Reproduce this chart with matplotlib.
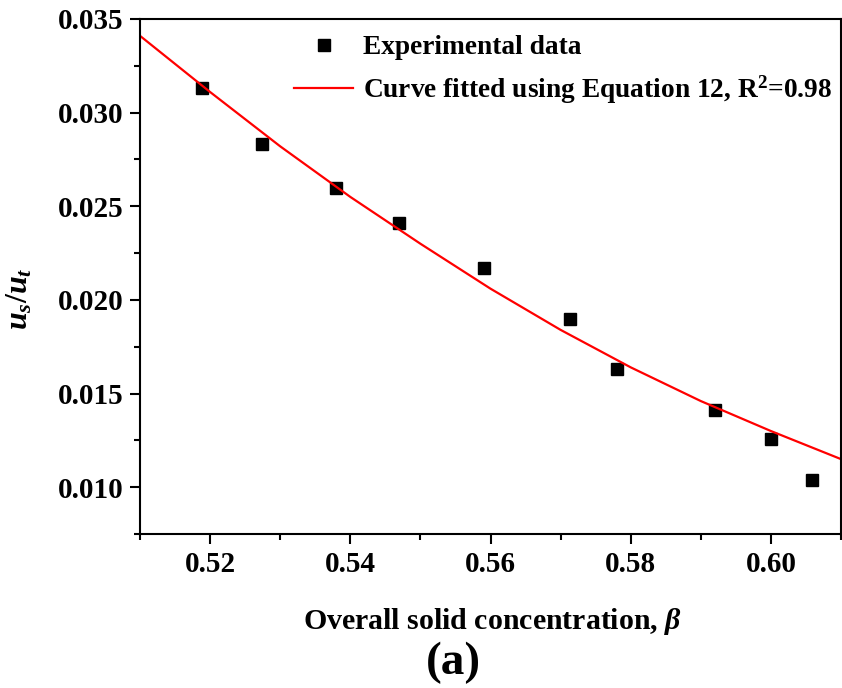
import matplotlib
matplotlib.use('Agg')
import matplotlib.pyplot as plt
from matplotlib.ticker import MultipleLocator, FormatStrFormatter

beta_exp = [0.5189, 0.5274, 0.5380, 0.5470, 0.5591, 0.5713, 0.5780, 0.5920, 0.6000, 0.6059]
ratio_exp = [0.0313, 0.0283, 0.0260, 0.0241, 0.0217, 0.0190, 0.0163, 0.0141, 0.0126, 0.0104]

# fitted curve (Equation 12), sampled from the figure
beta_fit = [0.510, 0.520, 0.530, 0.540, 0.550, 0.560, 0.570, 0.580, 0.590, 0.600, 0.610]
ratio_fit = [0.0341, 0.0311, 0.0282, 0.0255, 0.0230, 0.0206, 0.0184, 0.0164, 0.0146, 0.0130, 0.0115]

plt.rcParams['font.family'] = ['Liberation Serif', 'DejaVu Serif']
plt.rcParams['font.weight'] = 'bold'
plt.rcParams['mathtext.fontset'] = 'custom'
plt.rcParams['mathtext.rm'] = 'Liberation Serif:bold'
plt.rcParams['mathtext.bf'] = 'Liberation Serif:bold'
plt.rcParams['mathtext.it'] = 'Liberation Serif:italic:bold'
plt.rcParams['mathtext.sf'] = 'Liberation Serif:italic'

fig = plt.figure(figsize=(8.42, 6.88), dpi=100)
ax = fig.add_axes([0.1663, 0.2238, 0.8325, 0.7486])

ax.plot(beta_exp, ratio_exp, 's', color='black', markersize=8.5, linestyle='none',
        label='Experimental data')
ax.plot(beta_fit, ratio_fit, '-', color='#ff0000', linewidth=1.6,
        label='Curve fitted using Equation 12, R$^2$=0.98')

ax.set_xlim(0.51, 0.61)
ax.set_ylim(0.0075, 0.035)
ax.xaxis.set_major_locator(MultipleLocator(0.02))
ax.xaxis.set_minor_locator(MultipleLocator(0.01))
ax.yaxis.set_major_locator(MultipleLocator(0.005))
ax.yaxis.set_minor_locator(MultipleLocator(0.0025))
ax.xaxis.set_major_formatter(FormatStrFormatter('%.2f'))
ax.yaxis.set_major_formatter(FormatStrFormatter('%.3f'))

for sp in ax.spines.values():
    sp.set_linewidth(1.5)
ax.tick_params(which='major', direction='out', length=7, width=1.5, labelsize=21, pad=5)
ax.tick_params(which='minor', direction='out', length=4, width=1.5)
for lab in ax.get_xticklabels() + ax.get_yticklabels():
    lab.set_fontweight('bold')

ax.set_xlabel(r'Overall solid concentration, $\mathsf{\beta}$', fontsize=21.5, fontweight='bold')
ax.xaxis.set_label_coords(0.503, -0.140)
ax.set_ylabel(r'$u_s/u_t$', fontsize=23)
ax.yaxis.set_label_coords(-0.15, 0.458)

ax.legend(loc='upper left', bbox_to_anchor=(0.22, 0.969), frameon=False,
          borderpad=0, borderaxespad=0, handlelength=2.15, handletextpad=0.35,
          labelspacing=0.5, prop={'weight': 'bold', 'size': 19.7})

fig.text(0.538, 0.036, '(a)', fontsize=34, fontweight='bold', ha='center', va='center')

fig.savefig('out.png', dpi=100)
